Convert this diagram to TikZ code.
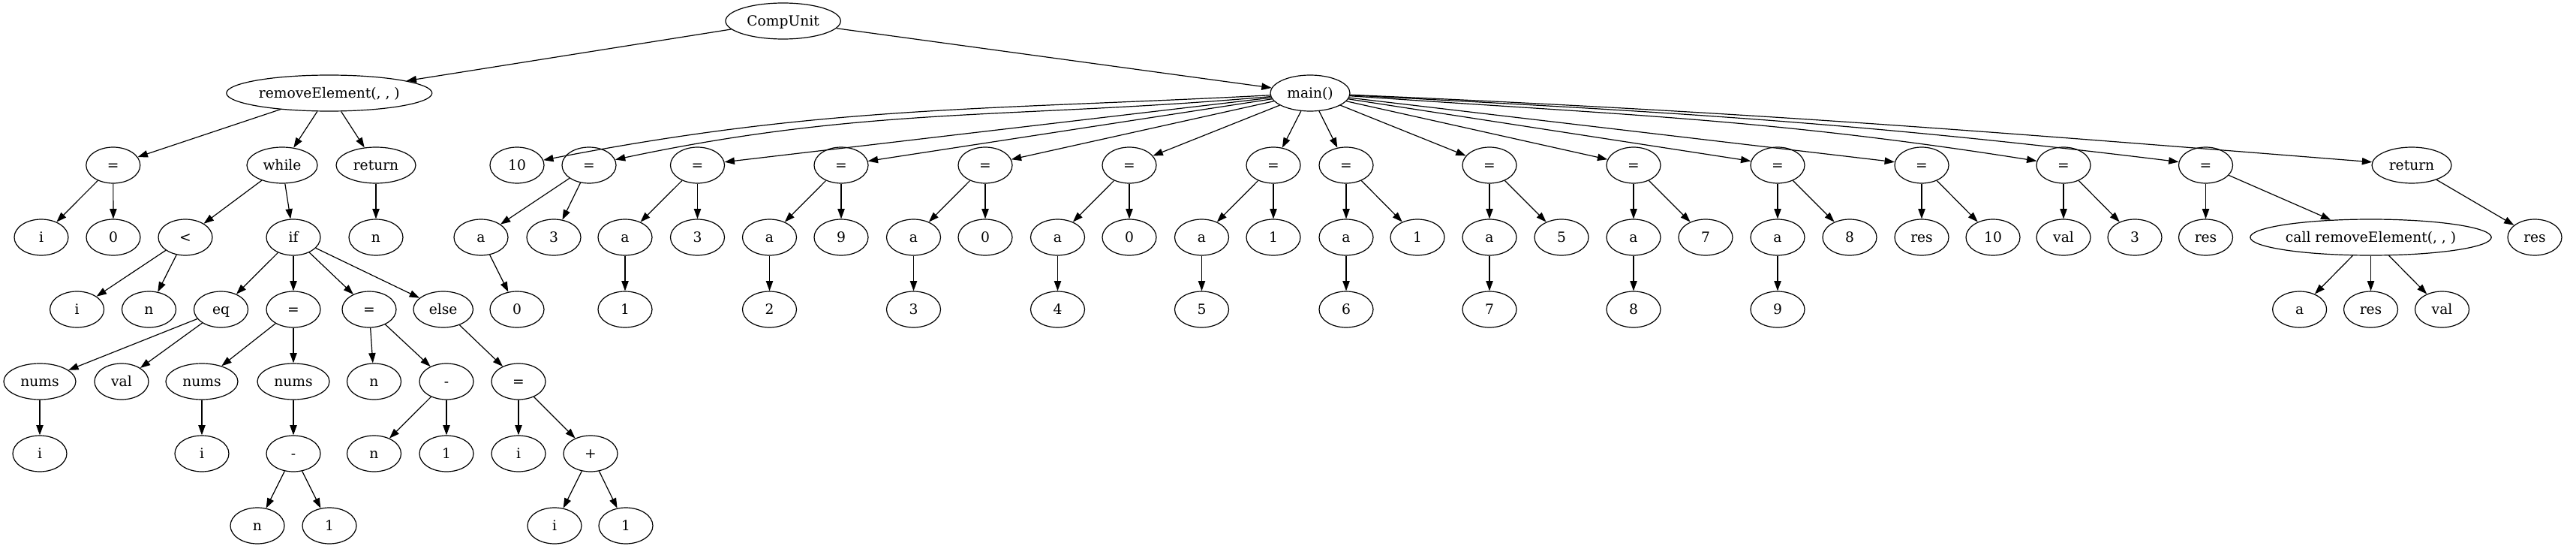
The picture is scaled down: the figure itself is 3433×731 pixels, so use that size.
\documentclass[tikz,border=0pt]{standalone}
\usepackage{fontspec}
\setmainfont{DejaVu Serif}
\usetikzlibrary{shapes.geometric,arrows.meta}
\newcommand\gv[1]{\makebox[0pt]{\rule[-2.8pt]{0pt}{15.8pt}#1}}
\begin{document}
\begin{tikzpicture}[x=0.75pt,y=-0.75pt,
  nd/.style={ellipse,draw,line width=0.9pt,minimum width=54pt,minimum height=36pt,inner sep=0pt,font=\fontsize{14}{16}\selectfont},
  ed/.style={-{Triangle[length=10pt,width=7pt]},line width=0.9pt}]
\useasboundingbox (0,0) rectangle (3433,731);
% top
\node[nd,minimum width=115pt] (cu) at (1043.6,28) {\gv{CompUnit}};
\node[nd,minimum width=205.5pt] (re) at (438.8,124) {\gv{removeElement(, , )}};
\node[nd,minimum width=79.5pt] (mn) at (1746,124) {\gv{main()}};
% left subtree
\node[nd] (l1) at (150.8,220) {\gv{=}};
\node[nd,minimum width=70.5pt] (wh) at (376,220) {\gv{while}};
\node[nd,minimum width=79.5pt] (rt) at (501,220) {\gv{return}};
\node[nd] (l1i) at (55,316) {\gv{i}};
\node[nd] (l10) at (151,316) {\gv{0}};
\node[nd] (lt) at (247,316) {\gv{<}};
\node[nd] (iff) at (391,316) {\gv{if}};
\node[nd] (rtn) at (501,316) {\gv{n}};
\node[nd] (lti) at (102.6,412) {\gv{i}};
\node[nd] (ltn) at (198.5,412) {\gv{n}};
\node[nd] (eq) at (294.5,412) {\gv{eq}};
\node[nd] (ia) at (391,412) {\gv{=}};
\node[nd] (ib) at (492,412) {\gv{=}};
\node[nd,minimum width=59.6pt] (el) at (590.7,412) {\gv{else}};
\node[nd,minimum width=72pt] (eqn) at (53,508) {\gv{nums}};
\node[nd] (eqv) at (162,508) {\gv{val}};
\node[nd,minimum width=72pt] (ian1) at (269,508) {\gv{nums}};
\node[nd,minimum width=72pt] (ian2) at (391,508) {\gv{nums}};
\node[nd] (ibn) at (498.5,508) {\gv{n}};
\node[nd] (ibm) at (595,508) {\gv{-}};
\node[nd] (ea) at (691,508) {\gv{=}};
\node[nd] (eqni) at (53,604) {\gv{i}};
\node[nd] (ian1i) at (269,604) {\gv{i}};
\node[nd] (ian2m) at (391,604) {\gv{-}};
\node[nd] (ibmn) at (498.5,604) {\gv{n}};
\node[nd] (ibm1) at (595,604) {\gv{1}};
\node[nd] (eai) at (691,604) {\gv{i}};
\node[nd] (eap) at (787,604) {\gv{+}};
\node[nd] (ian2mn) at (343,700) {\gv{n}};
\node[nd] (ian2m1) at (439,700) {\gv{1}};
\node[nd] (eapi) at (739,700) {\gv{i}};
\node[nd] (eap1) at (834,700) {\gv{1}};
% main subtree
\node[nd] (m0) at (689,220) {\gv{10}};
\node[nd] (m1) at (785,220) {\gv{=}};
\node[nd] (m1a) at (641,316) {\gv{a}};
\node[nd] (m1b) at (738,316) {\gv{3}};
\node[nd] (m1c) at (689,412) {\gv{0}};
\node[nd] (m2) at (929.5,220) {\gv{=}};
\node[nd] (m2a) at (833,316) {\gv{a}};
\node[nd] (m2b) at (929.5,316) {\gv{3}};
\node[nd] (m2c) at (833,412) {\gv{1}};
\node[nd] (m3) at (1121,220) {\gv{=}};
\node[nd] (m3a) at (1025.5,316) {\gv{a}};
\node[nd] (m3b) at (1121,316) {\gv{9}};
\node[nd] (m3c) at (1025.5,412) {\gv{2}};
\node[nd] (m4) at (1313,220) {\gv{=}};
\node[nd] (m4a) at (1217.5,316) {\gv{a}};
\node[nd] (m4b) at (1313,316) {\gv{0}};
\node[nd] (m4c) at (1217.5,412) {\gv{3}};
\node[nd] (m5) at (1505,220) {\gv{=}};
\node[nd] (m5a) at (1409.5,316) {\gv{a}};
\node[nd] (m5b) at (1505,316) {\gv{0}};
\node[nd] (m5c) at (1409.5,412) {\gv{4}};
\node[nd] (m6) at (1697,220) {\gv{=}};
\node[nd] (m6a) at (1601.5,316) {\gv{a}};
\node[nd] (m6b) at (1697,316) {\gv{1}};
\node[nd] (m6c) at (1601.5,412) {\gv{5}};
\node[nd] (m7) at (1794,220) {\gv{=}};
\node[nd] (m7a) at (1794,316) {\gv{a}};
\node[nd] (m7b) at (1889,316) {\gv{1}};
\node[nd] (m7c) at (1794,412) {\gv{6}};
\node[nd] (m8) at (1985,220) {\gv{=}};
\node[nd] (m8a) at (1985,316) {\gv{a}};
\node[nd] (m8b) at (2081,316) {\gv{5}};
\node[nd] (m8c) at (1985,412) {\gv{7}};
\node[nd] (m9) at (2177,220) {\gv{=}};
\node[nd] (m9a) at (2177,316) {\gv{a}};
\node[nd] (m9b) at (2273,316) {\gv{7}};
\node[nd] (m9c) at (2177,412) {\gv{8}};
\node[nd] (m10) at (2369,220) {\gv{=}};
\node[nd] (m10a) at (2369,316) {\gv{a}};
\node[nd] (m10b) at (2465,316) {\gv{8}};
\node[nd] (m10c) at (2369,412) {\gv{9}};
\node[nd] (m11) at (2561,220) {\gv{=}};
\node[nd] (m11a) at (2561,316) {\gv{res}};
\node[nd] (m11b) at (2656,316) {\gv{10}};
\node[nd] (m12) at (2750,220) {\gv{=}};
\node[nd] (m12a) at (2750,316) {\gv{val}};
\node[nd] (m12b) at (2845,316) {\gv{3}};
\node[nd] (m13) at (2939.5,220) {\gv{=}};
\node[nd] (m13a) at (2939.5,316) {\gv{res}};
\node[nd,minimum width=241pt] (m13b) at (3159.5,316) {\gv{call removeElement(, , )}};
\node[nd] (m13c1) at (3064.6,412) {\gv{a}};
\node[nd] (m13c2) at (3159.5,412) {\gv{res}};
\node[nd] (m13c3) at (3254.5,412) {\gv{val}};
\node[nd,minimum width=79.5pt] (mr) at (3214,220) {\gv{return}};
\node[nd] (mra) at (3378,316) {\gv{res}};
% edges top
\draw[ed] (cu) -- (re);
\draw[ed] (cu) -- (mn);
% left subtree edges
\draw[ed] (re) -- (l1);
\draw[ed] (re) -- (wh);
\draw[ed] (re) -- (rt);
\draw[ed] (l1) -- (l1i);
\draw[ed] (l1) -- (l10);
\draw[ed] (wh) -- (lt);
\draw[ed] (wh) -- (iff);
\draw[ed] (rt) -- (rtn);
\draw[ed] (lt) -- (lti);
\draw[ed] (lt) -- (ltn);
\draw[ed] (iff) -- (eq);
\draw[ed] (iff) -- (ia);
\draw[ed] (iff) -- (ib);
\draw[ed] (iff) -- (el);
\draw[ed] (eq) -- (eqn);
\draw[ed] (eq) -- (eqv);
\draw[ed] (eqn) -- (eqni);
\draw[ed] (ia) -- (ian1);
\draw[ed] (ia) -- (ian2);
\draw[ed] (ian1) -- (ian1i);
\draw[ed] (ian2) -- (ian2m);
\draw[ed] (ian2m) -- (ian2mn);
\draw[ed] (ian2m) -- (ian2m1);
\draw[ed] (ib) -- (ibn);
\draw[ed] (ib) -- (ibm);
\draw[ed] (ibm) -- (ibmn);
\draw[ed] (ibm) -- (ibm1);
\draw[ed] (el) -- (ea);
\draw[ed] (ea) -- (eai);
\draw[ed] (ea) -- (eap);
\draw[ed] (eap) -- (eapi);
\draw[ed] (eap) -- (eap1);
% main edges
\draw[ed] (mn) to[out=183,in=11] (m0);
\draw[ed] (mn) to[out=185,in=12] (m1);
\draw[ed] (mn) -- (m2);
\draw[ed] (mn) -- (m3);
\draw[ed] (mn) -- (m4);
\draw[ed] (mn) -- (m5);
\draw[ed] (mn) -- (m6);
\draw[ed] (mn) -- (m7);
\draw[ed] (mn) -- (m8);
\draw[ed] (mn) -- (m9);
\draw[ed] (mn) -- (m10);
\draw[ed] (mn) -- (m11);
\draw[ed] (mn) to[out=-4,in=171] (m12);
\draw[ed] (mn) to[out=-3,in=173] (m13);
\draw[ed] (mn) to[out=-2.5,in=175.5] (mr);
\draw[ed] (m1) -- (m1a);
\draw[ed] (m1) -- (m1b);
\draw[ed] (m1a) -- (m1c);
\draw[ed] (m2) -- (m2a);
\draw[ed] (m2) -- (m2b);
\draw[ed] (m2a) -- (m2c);
\draw[ed] (m3) -- (m3a);
\draw[ed] (m3) -- (m3b);
\draw[ed] (m3a) -- (m3c);
\draw[ed] (m4) -- (m4a);
\draw[ed] (m4) -- (m4b);
\draw[ed] (m4a) -- (m4c);
\draw[ed] (m5) -- (m5a);
\draw[ed] (m5) -- (m5b);
\draw[ed] (m5a) -- (m5c);
\draw[ed] (m6) -- (m6a);
\draw[ed] (m6) -- (m6b);
\draw[ed] (m6a) -- (m6c);
\draw[ed] (m7) -- (m7a);
\draw[ed] (m7) -- (m7b);
\draw[ed] (m7a) -- (m7c);
\draw[ed] (m8) -- (m8a);
\draw[ed] (m8) -- (m8b);
\draw[ed] (m8a) -- (m8c);
\draw[ed] (m9) -- (m9a);
\draw[ed] (m9) -- (m9b);
\draw[ed] (m9a) -- (m9c);
\draw[ed] (m10) -- (m10a);
\draw[ed] (m10) -- (m10b);
\draw[ed] (m10a) -- (m10c);
\draw[ed] (m11) -- (m11a);
\draw[ed] (m11) -- (m11b);
\draw[ed] (m12) -- (m12a);
\draw[ed] (m12) -- (m12b);
\draw[ed] (m13) -- (m13a);
\draw[ed] (m13) -- (m13b);
\draw[ed] (m13b) -- (m13c1);
\draw[ed] (m13b) -- (m13c2);
\draw[ed] (m13b) -- (m13c3);
\draw[ed] (mr) -- (mra);
\end{tikzpicture}
\end{document}
